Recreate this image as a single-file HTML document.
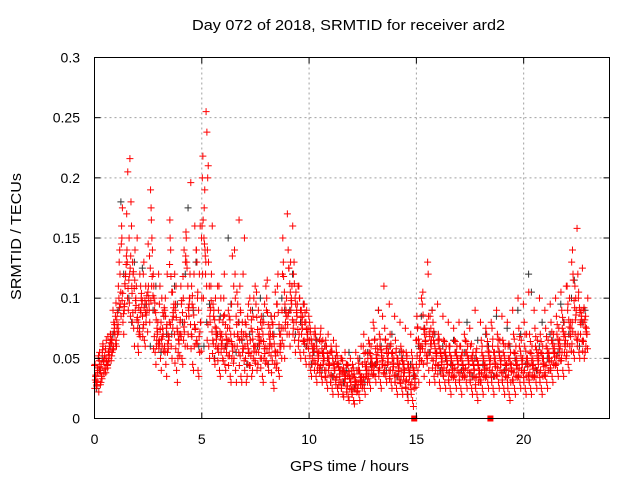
<!DOCTYPE html>
<html><head><meta charset="utf-8"><style>
body{margin:0;background:#fff}
svg{display:block;font-family:"Liberation Sans",sans-serif}
</style></head><body>
<svg id="chart" width="640" height="480">
<g id="grid"></g>
<g id="pts"></g>
<g id="axes"></g>
<text x="192" y="30" font-size="15" textLength="313" lengthAdjust="spacingAndGlyphs">Day 072 of 2018, SRMTID for receiver ard2</text>
<text x="290" y="471" font-size="15" textLength="119" lengthAdjust="spacingAndGlyphs">GPS time / hours</text>
<text transform="translate(21,300) rotate(-90)" font-size="15" textLength="127" lengthAdjust="spacingAndGlyphs">SRMTID / TECUs</text>
</svg>
<script>
const xTicks=[0,5,10,15,20];
const yTicks=[0,0.05,0.1,0.15,0.2,0.25,0.3];
const yTickLabels=["0","0.05","0.1","0.15","0.2","0.25","0.3"];
const rowStep=0.25;
const redRows=[
[30,22,45,38,55,28,35,50,25,40],[35,50,28,60,42,55,30,48,38,62],[45,60,38,55,70,42,65,50,58,48],[55,70,48,80,62,90,52,75,65,58],
[70,95,60,130,85,110,75,140,65,100],[80,120,150,95,135,70,175,110,160,90],[90,180,130,216,110,150,205,85,140,120],[75,110,130,90,150,60,120,100,80,140],
[70,95,60,110,85,120,55,100,75,90],[65,90,120,80,105,60,130,95,75,110],[80,140,100,165,120,190,90,150,110,175],[55,80,100,65,120,45,90,70,110,60],
[50,70,95,60,85,40,110,75,65,100],[45,65,90,55,80,35,100,70,60,120],[60,95,150,75,120,50,140,85,165,105],[40,70,95,55,80,30,110,65,90,50],
[50,80,110,65,130,45,95,140,70,100],[60,120,150,85,196,70,130,100,155,90],[45,75,110,60,140,40,95,160,70,120],[40,80,130,55,150,35,100,160,65,120],
[100,255,200,140,238,175,218,120,160,190],[60,120,200,90,160,50,210,110,140,80],[50,70,95,60,110,45,85,75,65,100],[40,65,90,55,80,35,110,70,60,100],
[45,75,100,55,90,40,120,65,85,60],[35,60,85,50,110,30,75,135,65,95],[40,80,140,60,165,30,120,95,70,105],[35,70,110,55,150,30,90,120,65,80],
[30,55,80,45,100,35,70,95,60,85],[35,60,90,50,110,40,75,100,65,85],[40,65,95,55,80,45,105,70,60,90],[35,60,85,50,110,30,75,95,65,80],
[45,70,100,60,85,40,115,75,90,55],[30,55,80,45,95,25,70,105,60,85],[40,75,110,55,90,35,120,70,95,60],[60,100,150,80,170,50,130,90,120,75],
[70,110,140,90,160,60,125,100,85,130],[65,95,120,80,110,55,130,90,75,105],[55,85,110,70,95,50,100,80,65,90],[50,75,95,60,85,45,80,70,65,90],
[40,60,80,50,70,35,75,55,65,45],[35,55,75,45,65,30,70,50,60,40],[35,50,70,45,60,30,75,55,40,65],[30,45,65,40,55,25,60,50,35,70],
[25,40,60,35,50,20,55,45,30,65],[25,40,55,30,50,20,45,35,60,28],[20,35,50,30,45,18,40,55,25,38],[18,30,45,25,40,15,35,50,22,33],
[15,30,45,25,40,12,35,55,20,28],[20,35,50,28,45,15,40,60,25,32],[25,40,60,35,50,20,70,45,30,55],[30,45,65,40,80,25,55,50,35,60],
[35,55,75,45,90,30,65,60,40,50],[30,50,70,45,110,25,60,85,40,55],[35,55,75,45,95,30,65,50,40,60],[30,50,70,40,85,25,60,45,35,55],
[25,45,65,35,80,20,55,40,30,50],[25,40,60,35,75,20,50,45,30,55],[20,40,55,30,70,15,50,35,25,45],[15,35,55,25,65,10,45,30,20,40],
[40,60,85,50,100,30,75,55,65,45],[45,70,95,55,80,35,105,65,60,75],[40,65,130,55,90,30,120,75,50,85],[35,55,80,45,95,30,65,50,70,40],
[30,50,70,40,85,25,60,45,65,55],[30,45,65,40,80,25,55,50,35,60],[25,45,60,35,75,20,55,40,30,50],[30,45,65,40,80,25,55,50,35,60],
[25,40,60,35,70,20,50,45,30,55],[30,45,65,40,75,25,55,50,35,60],[25,40,60,35,90,20,50,45,30,55],[20,40,55,30,80,15,50,35,25,45],
[25,45,65,35,75,20,55,40,30,50],[30,50,70,40,80,25,60,45,35,55],[25,45,75,35,90,20,60,50,30,55],[30,50,70,40,85,25,60,45,35,65],
[25,45,65,35,80,20,55,40,30,60],[20,40,60,30,90,15,50,45,25,55],[25,45,70,35,100,20,55,50,30,60],[30,50,75,40,95,25,60,45,35,65],
[25,45,80,35,105,20,60,50,30,70],[25,45,70,35,90,20,55,50,30,60],[30,50,75,40,100,25,60,55,35,65],[25,45,70,35,90,20,55,50,30,60],
[30,50,75,40,95,25,60,55,35,65],[35,55,80,45,100,30,65,60,40,70],[40,60,85,50,105,35,70,65,45,75],[40,65,90,55,110,35,75,70,50,80],
[45,75,110,60,130,40,90,80,55,100],[55,90,140,70,158,50,120,100,80,110],[55,85,120,70,125,50,100,90,65,80],[50,70,90,60,100,55,80,75,65,85]
];
const redRows2=[
[32,42,27,48,36,52,31,44],[40,47,33,52,45,37,57,43],[50,56,44,63,47,53,68,41],[62,72,57,85,66,78,60,70],
[82,92,78,105,88,120,72,96],[98,112,87,128,104,118,93,145],[100,125,115,160,108,135,96,170],[88,98,108,82,122,94,115,104],
[80,88,72,98,92,104,68,84],[78,86,98,72,92,102,88,68],[95,110,125,102,135,118,98,145],[68,75,88,62,96,72,82,58],
[62,68,80,56,74,88,66,58],[55,62,75,68,85,58,78,92],[78,88,105,70,118,92,82,128],[58,66,75,52,84,62,72,46],
[68,76,88,60,98,72,118,82],[85,95,110,78,125,100,92,135],[68,78,92,62,102,74,86,58],[62,72,90,56,105,80,68,140],
[120,135,150,110,165,130,145,100],[78,92,110,72,130,98,85,65],[62,70,82,58,90,66,76,54],[55,62,72,50,82,60,68,48],
[58,66,78,52,86,62,70,48],[52,60,70,46,82,56,64,44],[60,70,85,55,100,68,78,50],[52,60,72,48,88,58,66,44],
[50,58,68,44,78,54,62,40],[52,60,72,48,82,56,66,44],[55,62,74,50,84,60,68,46],[50,58,70,46,80,54,64,42],
[58,66,78,52,88,62,70,48],[48,56,68,42,78,52,62,38],[55,62,78,50,88,60,70,46],[75,88,105,70,118,85,95,65],
[88,98,112,82,125,95,105,78],[80,88,100,74,112,85,95,70],[70,78,90,64,100,75,84,60],[62,70,80,58,88,66,74,55],
[52,58,66,48,72,55,62,45],[46,52,60,42,66,50,56,40],[44,50,58,40,64,48,54,38],[40,46,54,36,60,44,50,34],
[36,42,50,32,56,40,46,30],[34,40,46,30,52,37,43,28],[30,36,42,27,48,33,39,25],[27,33,39,24,44,30,36,22],
[25,31,37,22,42,28,34,20],[28,34,40,25,46,31,37,23],[34,40,47,30,54,37,43,28],[40,46,54,36,62,43,50,33],
[44,50,58,40,66,47,53,37],[42,48,57,38,66,45,52,35],[44,50,58,40,66,47,54,37],[40,46,54,36,62,43,50,33],
[36,42,50,32,58,39,46,30],[35,41,48,31,56,38,45,29],[32,38,45,28,52,35,42,26],[30,36,42,26,50,33,40,24],
[52,58,66,48,76,55,62,45],[58,64,74,52,86,62,70,48],[55,62,72,50,85,60,68,46],[48,54,62,44,72,52,58,42],
[44,50,58,40,66,47,54,37],[42,48,55,38,64,45,52,36],[38,44,52,34,60,41,48,32],[42,48,55,38,64,45,52,36],
[38,44,52,34,60,41,48,32],[42,48,55,38,64,45,52,36],[38,44,52,34,62,41,48,32],[34,40,48,30,58,37,44,28],
[38,44,52,34,60,41,48,32],[42,48,56,38,64,45,52,36],[40,46,55,36,66,43,50,34],[42,48,56,38,66,45,52,36],
[38,44,52,34,62,41,48,32],[36,42,50,32,62,39,46,30],[38,44,54,34,66,41,48,32],[42,48,56,38,68,45,52,36],
[40,46,56,36,70,43,50,34],[38,44,54,34,64,41,48,32],[42,48,57,38,68,45,52,36],[40,46,54,36,64,43,50,34],
[44,50,58,40,68,47,54,38],[48,54,62,44,72,51,58,42],[52,58,66,48,78,55,62,46],[55,62,72,50,84,60,68,48],
[62,70,82,56,95,68,76,52],[72,82,98,66,115,86,92,62],[70,78,92,64,105,82,88,60],[64,72,82,58,92,70,76,56]
];
const blackStep=0.5;
const blackRows=[
[25,40,50],[45,60,70],[90,180,120],[100,80,130],[75,125,95],[60,90,110],[55,85,70],[70,110,95],[80,120,175],[90,130,60],
[60,80,95],[50,70,85],[60,150,95],[55,80,65],[45,70,90],[60,100,85],[45,85,70],[75,100,90],[90,120,70],[80,95,60],
[45,55,65],[40,60,50],[35,50,45],[30,40,55],[25,40,50],[30,55,45],[45,90,60],[40,60,70],[35,55,50],[20,45,35],
[60,85,75],[55,90,70],[40,60,50],[45,65,55],[40,55,80],[35,50,65],[45,70,60],[35,85,55],[40,75,60],[50,90,70],
[45,120,105],[40,60,80],[50,70,65],[55,95,80],[70,100,115],[60,80,90]
];
const redMarkers=[14.9,18.45];

const NS="http://www.w3.org/2000/svg";
const X0=94.5,X1=609.5,Y0=418.5,Y1=57.5,XMAX=24,YMAX=0.3;
const off1=[0.3,0.8,0.1,0.6,0.95,0.45,0.2,0.7,0.05,0.55];
const off2=[0.15,0.65,0.4,0.9,0.25,0.75,0.5,0.0];
const sx=t=>X0+t/XMAX*(X1-X0);
const sy=v=>Y0-v/YMAX*(Y0-Y1);
function mk(tag,attrs,parent){const e=document.createElementNS(NS,tag);for(const k in attrs)e.setAttribute(k,attrs[k]);parent.appendChild(e);return e;}
const grid=document.getElementById('grid'),axes=document.getElementById('axes'),pts=document.getElementById('pts');
xTicks.forEach((t,i)=>{
  const x=sx(t);
  if(t>0){const g=mk('line',{x1:x,x2:x,y1:Y1,y2:Y0,stroke:'#a0a0a0','stroke-dasharray':'2,3'},grid);
  
  }
  mk('line',{x1:x,x2:x,y1:Y0,y2:Y0-6,stroke:'#000'},axes);
  mk('line',{x1:x,x2:x,y1:Y1,y2:Y1+6,stroke:'#000'},axes);
  const l=mk('text',{x:x,y:444,'text-anchor':'middle','font-size':14},axes);
  l.textContent=String(t);
  
  
});
yTicks.forEach((v,i)=>{
  const y=sy(v);
  if(v>0&&v<YMAX){const g=mk('line',{x1:X0,x2:X1,y1:y,y2:y,stroke:'#a0a0a0','stroke-dasharray':'2,3'},grid);
  
  }
  mk('line',{x1:X0,x2:X0+6,y1:y,y2:y,stroke:'#000'},axes);
  mk('line',{x1:X1,x2:X1-6,y1:y,y2:y,stroke:'#000'},axes);
  const l=mk('text',{x:80,y:y+5,'text-anchor':'end','font-size':14},axes);
  l.textContent=yTickLabels[i];
  
  
});
const frame=mk('rect',{x:X0,y:Y1,width:X1-X0,height:Y0-Y1,fill:'none',stroke:'#000'},axes);


function cross(t,v,col,name){
  const x=sx(t),y=sy(v);
  const p=mk('path',{d:`M${x-3.5},${y}h7M${x},${y-3.5}v7`,stroke:col,'stroke-width':1},pts);
  
  
}
blackRows.forEach((row,i)=>row.forEach((v,k)=>cross(i*blackStep+0.1+k*0.13,v/1000,'#333','black-point')));
redRows.forEach((row,i)=>row.forEach((v,k)=>cross((i+off1[k])*rowStep,v/1000,'#f00','red-point')));
redRows2.forEach((row,i)=>row.forEach((v,k)=>cross((i+off2[k])*rowStep,v/1000,'#f00','red-point')));
redMarkers.forEach(t=>{
  const r=mk('rect',{x:sx(t)-3,y:Y0-3,width:6,height:6,fill:'#f00'},pts);
  
  
});
</script>
</body></html>
